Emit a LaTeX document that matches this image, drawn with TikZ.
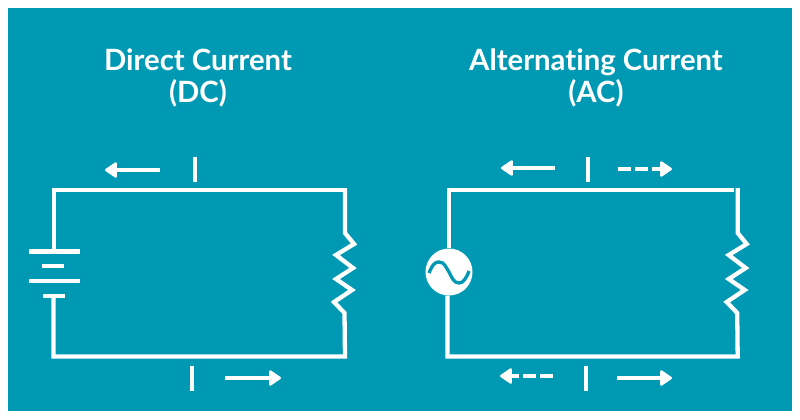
\documentclass[tikz,border=0pt]{standalone}
\usepackage{fontspec}
\setmainfont[Ligatures=NoCommon]{Lato}
\usetikzlibrary{arrows.meta}
\definecolor{panelblue}{HTML}{0099B3}

\begin{document}
\begin{tikzpicture}
 [ x=1pt
 , y=-1pt
 , wire/.style={draw=white, line width=4.3pt}
 , marker/.style={draw=white, line width=4.3pt}
 , flow/.style={draw=white, line width=4.3pt, -{Triangle[length=13pt, width=17pt, line width=2.5pt, round, sep=0pt]}, shorten >=1pt}
 , flow back/.style={flow, dash pattern=on 13pt off 4pt}
 , heading/.style={text=white, font=\bfseries\fontsize{29.3}{32}\selectfont, align=center}
 , source/.style={circle, fill=white, inner sep=0pt, minimum size=47pt}
 ]
  \useasboundingbox (0,0) rectangle (800,420);
  \fill [panelblue] (7.5,8) rectangle (792,411);

  \node [heading] (dctitle) at (198,78) {Direct Current\\(DC)};
  \node [heading] (actitle) at (596,78) {Alternating Current\\(AC)};

  % corners
  \coordinate (dctl) at (53.5,190);
  \coordinate (dctr) at (345,190);
  \coordinate (dcbl) at (53.5,356.5);
  \coordinate (dcbr) at (345,356.5);
  \coordinate (actl) at (449,190);
  \coordinate (actr) at (737.7,190);
  \coordinate (acbl) at (447.5,356.5);
  \coordinate (acbr) at (737.7,356.5);

  % battery
  \coordinate (plateA) at (54,251.5);
  \coordinate (plateD) at (54,295.7);
  \draw [wire] (29,251.5) -- (80,251.5);
  \draw [wire] (42,266) -- (64,266);
  \draw [wire] (29,280.7) -- (80,280.7);
  \draw [wire] (43,295.7) -- (65,295.7);
  \draw [wire] (plateA) -- (plateA |- dctl) -- (dctr);

  % ac source
  \node [source] (acsource) at (449,272) {};
  \draw [panelblue, line width=3.3pt]
    (429,273) .. controls (433,263) and (436,262) .. (439,262)
    .. controls (445,262) and (446,268) .. (449,272)
    .. controls (452,278) and (454,283) .. (459,283)
    .. controls (463,283) and (466,279) .. (469,271);
  \draw [wire] (acsource.north) -- (actl) -- (734,190);

  % resistors and bottom wires
  \foreach \name/\start in {dc/plateD, ac/acsource.south}
    \draw [wire] ([yshift=2pt]\name tr) -- ++(0,45) -- ++(9,11) -- ++(-18,11) -- ++(17,13)
      -- ++(-17,11) -- ++(16,11) -- ++(-18,12) -- ++(10.5,11) -- (\name br) -- (\name bl)
      -- (\name bl |- \start);

  % ticks
  \foreach \x/\y/\name in {195/157/dcup, 192/366/dcdown, 588/157/acup, 586/366/acdown}
  {
    \coordinate (\name a) at (\x,\y);
    \coordinate (\name b) at (\x,\y+25);
    \draw [marker] (\name a) -- (\name b);
  }

  % current arrows
  \coordinate (dcA) at (160,170);
  \coordinate (dcB) at (104,170);
  \coordinate (dcC) at (225,378);
  \coordinate (dcD) at (282,378);
  \coordinate (acA) at (555,168);
  \coordinate (acB) at (500,168);
  \coordinate (acC) at (618,169);
  \coordinate (acD) at (673,169);
  \coordinate (acE) at (553,376);
  \coordinate (acF) at (499,376);
  \coordinate (acG) at (617,378);
  \coordinate (acH) at (673,378);
  \draw [flow] (dcA) -- (dcB);
  \draw [flow] (dcC) -- (dcD);
  \draw [flow] (acA) -- (acB);
  \draw [flow back] (acC) -- (acD);
  \draw [flow back] (acE) -- (acF);
  \draw [flow] (acG) -- (acH);
\end{tikzpicture}
\end{document}
